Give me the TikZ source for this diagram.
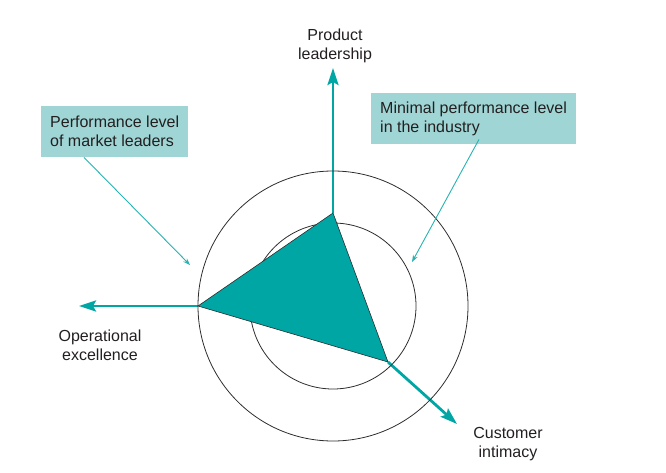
\documentclass[tikz,border=0pt]{standalone}
\usepackage{fontspec}
\setmainfont{Liberation Sans}
\usetikzlibrary{arrows.meta}
\definecolor{tealfill}{RGB}{0,166,164}
\definecolor{boxfill}{RGB}{160,213,213}
\definecolor{ringgray}{RGB}{45,45,45}
\definecolor{inktext}{RGB}{35,31,32}

\begin{document}
\begin{tikzpicture}[x=1pt,y=-1pt,
  every node/.style={font=\fontsize{16}{19}\selectfont,text=inktext},
  ring/.style={ringgray,line width=0.8pt},
  axis/.style={tealfill,line width=2.8pt,-{Stealth[length=17pt,width=11pt,inset=3pt]}},
  callout/.style={tealfill!85!white,line width=0.9pt,-{Stealth[length=7pt,width=5pt]}},
  labelbox/.style={fill=boxfill,align=left,anchor=north west,inner xsep=9pt,minimum height=51pt},
  axislabel/.style={align=center,inner sep=0pt}]
\useasboundingbox (0,0) rectangle (666,473);
\coordinate (O) at (333,306);
% profile vertices
\coordinate (P) at (333,213);
\coordinate (E) at (198,306);
\coordinate (C) at (388,362);
% axis ends
\coordinate (Ptip) at (333,68);
\coordinate (Etip) at (79,306);
\coordinate (Ctip) at (457,424);
% callout ends
\coordinate (outerpt) at (190,265);
\coordinate (innerpt) at (412,262);

\draw[axis] (P) -- (Ptip);
\draw[axis] (E) -- (Etip);
\draw[axis] (C) -- (Ctip);

\draw[ring] (O) circle (135);
\draw[ring] (O) circle (83);

\filldraw[fill=tealfill,draw=ringgray,line width=0.6pt,line join=round] (P) -- (C) -- (E) -- cycle;

\node[axislabel] (product) at (335,46) {Product\\leadership};
\node[axislabel] (operational) at (100,345) {Operational\\excellence};
\node[axislabel] (customer) at (508,444) {Customer\\intimacy};

\node[labelbox] (leaders) at (41,106) {Performance level\\of market leaders};
\node[labelbox] (industry) at (371,93) {Minimal performance level\\in the industry};

\draw[callout] ([xshift=43pt]leaders.south west) -- (outerpt);
\draw[callout] ([xshift=108pt,yshift=5pt]industry.south west) -- (innerpt);
\end{tikzpicture}
\end{document}
